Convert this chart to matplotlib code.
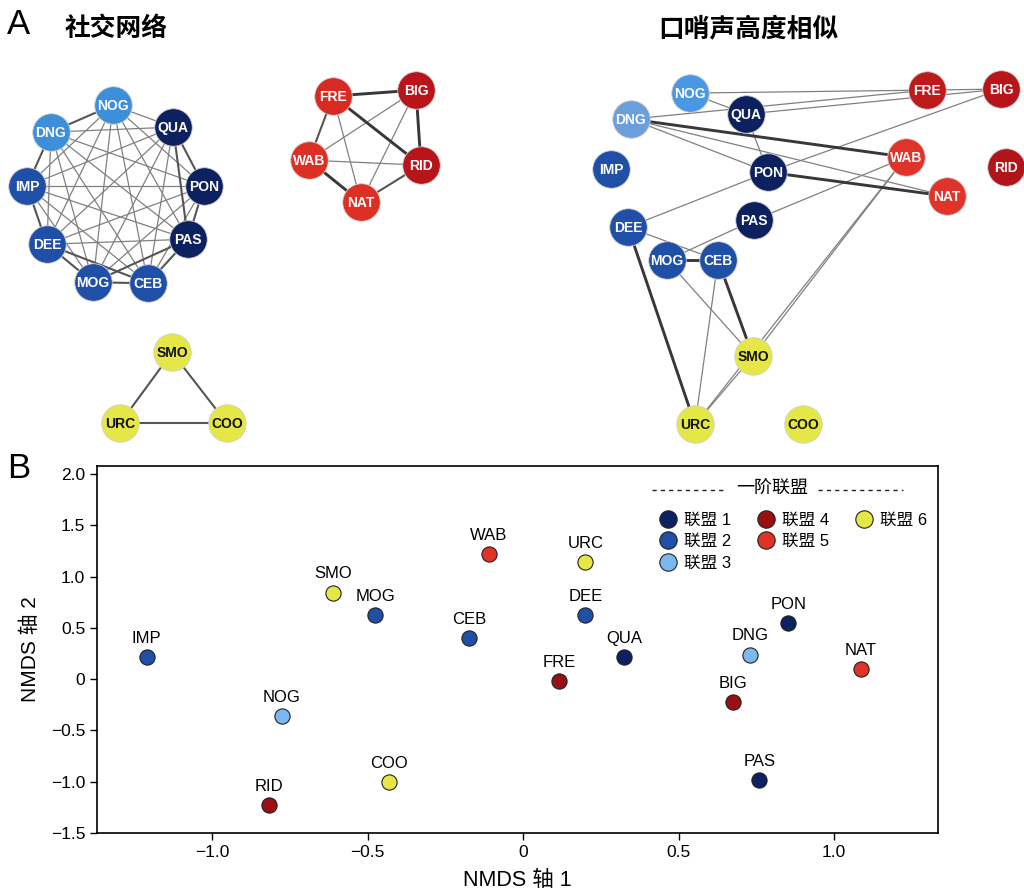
import itertools
import matplotlib
matplotlib.use("Agg")
import matplotlib.pyplot as plt
from matplotlib.lines import Line2D
from matplotlib.ticker import FixedLocator, FuncFormatter

plt.rcParams["font.family"] = ["Liberation Sans", "Noto Sans CJK SC", "DejaVu Sans"]
plt.rcParams["axes.unicode_minus"] = True

# ---- NMDS 数据 ----
names = ["IMP", "SMO", "MOG", "CEB", "WAB", "NOG", "COO", "RID", "URC",
         "DEE", "QUA", "FRE", "PON", "DNG", "NAT", "BIG", "PAS"]
nmds_x = [-1.21, -0.61, -0.476, -0.173, -0.11, -0.776, -0.43, -0.817, 0.20,
          0.20, 0.325, 0.115, 0.853, 0.73, 1.085, 0.676, 0.76]
nmds_y = [0.22, 0.845, 0.63, 0.40, 1.22, -0.36, -1.00, -1.225, 1.14,
          0.63, 0.22, -0.02, 0.55, 0.24, 0.10, -0.22, -0.985]
coalition = {"QUA": 1, "PON": 1, "PAS": 1,
             "IMP": 2, "DEE": 2, "MOG": 2, "CEB": 2,
             "NOG": 3, "DNG": 3,
             "BIG": 4, "RID": 4, "FRE": 4,
             "WAB": 5, "NAT": 5,
             "SMO": 6, "URC": 6, "COO": 6}
coal_colors = {1: "#0d2160", 2: "#1f4fa6", 3: "#7cb8f0",
               4: "#9a0f14", 5: "#de3326", 6: "#e4e746"}
coal_labels = {1: "联盟 1", 2: "联盟 2", 3: "联盟 3",
               4: "联盟 4", 5: "联盟 5", 6: "联盟 6"}

# ---- 网络布局 (像素坐标) ----
social_pos = {"NOG": (113, 105), "DNG": (51, 132), "QUA": (173, 127),
              "IMP": (27, 186), "PON": (204, 186), "DEE": (47, 244),
              "PAS": (188, 239), "MOG": (93, 282), "CEB": (148, 283),
              "FRE": (333, 96), "BIG": (416, 90), "WAB": (309, 160),
              "RID": (421, 165), "NAT": (361, 202),
              "SMO": (172, 352), "URC": (120, 423), "COO": (227, 423)}
whistle_pos = {"NOG": (690, 93), "QUA": (746, 114), "DNG": (631, 119),
               "FRE": (927, 90), "BIG": (1001, 89), "IMP": (611, 169),
               "PON": (768, 172), "WAB": (906, 157), "RID": (1006, 167),
               "NAT": (947, 196), "DEE": (628, 227), "PAS": (754, 220),
               "MOG": (667, 260), "CEB": (718, 260), "SMO": (753, 356),
               "URC": (695, 424), "COO": (803, 424)}

social_net_colors = {"NOG": "#3d8fd9", "DNG": "#3d8fd9",
                     "FRE": "#d62a22", "WAB": "#dc3025", "NAT": "#dc3025",
                     "BIG": "#b8141a", "RID": "#b8141a"}
whistle_net_colors = {"NOG": "#4a98e3", "DNG": "#6a9edc",
                      "FRE": "#bd1a1a", "BIG": "#b8151a", "RID": "#b0151a",
                      "WAB": "#e0332a", "NAT": "#e0332a"}

blue_group = ["NOG", "DNG", "QUA", "IMP", "PON", "DEE", "PAS", "MOG", "CEB"]
social_strong = [("FRE", "BIG"), ("FRE", "RID"), ("BIG", "RID"), ("WAB", "NAT")]
social_mid = [("DNG", "IMP"), ("IMP", "DEE"), ("DEE", "MOG"), ("MOG", "CEB"),
              ("CEB", "PAS"), ("PAS", "PON"), ("QUA", "PON"), ("QUA", "PAS"),
              ("DEE", "CEB"), ("MOG", "PAS"), ("NOG", "DNG"),
              ("FRE", "WAB"), ("NAT", "RID"),
              ("SMO", "URC"), ("SMO", "COO"), ("URC", "COO")]
social_weak = [("FRE", "NAT"), ("BIG", "WAB"), ("BIG", "NAT"), ("WAB", "RID")]
social_weak += [e for e in itertools.combinations(blue_group, 2)
                if e not in social_mid and (e[1], e[0]) not in social_mid]

whistle_strong = [("DNG", "WAB"), ("PON", "NAT"), ("MOG", "CEB"),
                  ("CEB", "SMO"), ("DEE", "URC")]
whistle_mid = []
whistle_weak = [("NOG", "FRE"), ("FRE", "BIG"), ("NOG", "QUA"), ("DNG", "FRE"),
                ("QUA", "BIG"), ("DNG", "PON"), ("DNG", "NAT"), ("QUA", "PON"),
                ("PON", "BIG"), ("PON", "DEE"), ("PAS", "WAB"), ("PAS", "MOG"),
                ("DEE", "CEB"), ("MOG", "SMO"), ("CEB", "URC"), ("SMO", "URC"),
                ("SMO", "WAB"), ("URC", "WAB")]


def node_color(name, overrides):
    return overrides.get(name, coal_colors[coalition[name]])


def draw_network(ax, pos, strong, mid, weak, overrides):
    for edges, col, lw in [(weak, "#808080", 0.9), (mid, "#555555", 1.5),
                           (strong, "#383838", 2.1)]:
        for a, b in edges:
            ax.plot([pos[a][0], pos[b][0]], [pos[a][1], pos[b][1]],
                    color=col, linewidth=lw, zorder=1)
    for name, (x, y) in pos.items():
        c = node_color(name, overrides)
        ax.scatter(x, y, s=730, color=c, edgecolor="#d0d0d0", linewidth=0.6,
                   zorder=3)
        txt = "#111111" if coalition[name] == 6 else "white"
        ax.text(x, y + 1, name, ha="center", va="center", fontsize=10,
                fontweight="bold", color=txt, zorder=4)


fig = plt.figure(figsize=(10.24, 8.93), dpi=100)

# ------------------ A: 网络图 ------------------
ax_net = fig.add_axes([0, 0.49, 1, 0.51])
ax_net.set_xlim(0, 1024)
ax_net.set_ylim(455, 0)
ax_net.axis("off")
draw_network(ax_net, social_pos, social_strong, social_mid, social_weak,
             social_net_colors)
draw_network(ax_net, whistle_pos, whistle_strong, whistle_mid, whistle_weak,
             whistle_net_colors)

fig.text(0.007, 0.973, "A", fontsize=25, ha="left", va="center")
fig.text(0.063, 0.968, "社交网络", fontsize=18.5, fontweight="bold",
         ha="left", va="center")
fig.text(0.731, 0.968, "口哨声高度相似", fontsize=18.5, fontweight="bold",
         ha="center", va="center")
fig.text(0.007, 0.475, "B", fontsize=25, ha="left", va="center")

# ------------------ B: NMDS 散点 ------------------
ax = fig.add_axes([0.0947, 0.0672, 0.8213, 0.411])
for name, x, y in zip(names, nmds_x, nmds_y):
    ax.scatter(x, y, s=120, color=coal_colors[coalition[name]],
               edgecolor="#222222", linewidth=0.8, zorder=3)
    ax.annotate(name, (x, y), xytext=(0, 8), textcoords="offset points",
                ha="center", va="bottom", fontsize=12)

ax.set_xlim(-1.37, 1.334)
ax.set_ylim(-1.5, 2.08)
ax.xaxis.set_major_locator(FixedLocator([-1.0, -0.5, 0, 0.5, 1.0]))
ax.yaxis.set_major_locator(FixedLocator([-1.5, -1.0, -0.5, 0, 0.5, 1.0, 1.5, 2.0]))
fmt = FuncFormatter(lambda v, p: "0" if abs(v) < 1e-9 else f"{v:.1f}".replace("-", "\u2212"))
ax.xaxis.set_major_formatter(fmt)
ax.yaxis.set_major_formatter(fmt)
ax.tick_params(labelsize=12.5, direction="out", length=5, width=1)
for s in ax.spines.values():
    s.set_linewidth(1.2)
ax.set_xlabel("NMDS 轴 1", fontsize=15.5, labelpad=7)
ax.set_ylabel("NMDS 轴 2", fontsize=15, labelpad=8)

# 图例: 三列, 用空白占位
def handle(k):
    return Line2D([], [], marker="o", linestyle="", markersize=12.5,
                  markerfacecolor=coal_colors[k], markeredgecolor="#222222",
                  markeredgewidth=0.8)

blank = Line2D([], [], linestyle="", marker="")
handles = [handle(1), handle(2), handle(3), handle(4), handle(5), blank,
           handle(6), blank, blank]
labels = [coal_labels[1], coal_labels[2], coal_labels[3], coal_labels[4],
          coal_labels[5], "", coal_labels[6], "", ""]
ax.legend(handles, labels, ncol=3, loc="upper left",
          bbox_to_anchor=(0.655, 0.905), frameon=False, fontsize=12,
          handletextpad=0.45, columnspacing=1.6, labelspacing=0.4,
          handlelength=1.0, borderpad=0.2)

ax.plot([0.66, 0.749], [0.935, 0.935], transform=ax.transAxes,
        color="#222222", linewidth=1, linestyle=(0, (3, 3)), clip_on=False)
ax.plot([0.857, 0.958], [0.935, 0.935], transform=ax.transAxes,
        color="#222222", linewidth=1, linestyle=(0, (3, 3)), clip_on=False)
ax.text(0.803, 0.935, "一阶联盟", transform=ax.transAxes, ha="center",
        va="center", fontsize=13)

fig.savefig("out.png", dpi=100)
